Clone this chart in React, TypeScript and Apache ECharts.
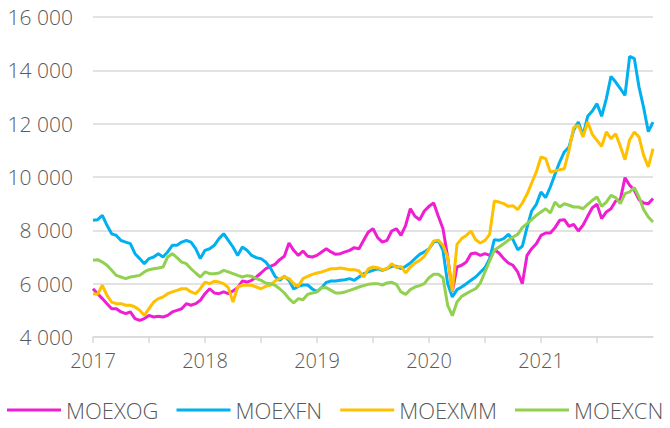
import React, { useEffect, useRef } from "react";
import * as echarts from "echarts";

// Semi-monthly observations, Jan 2017 .. Jan 2022 (121 points each)
const START_YEAR = 2017;
const STEPS_PER_YEAR = 24;

const seriesNames = ["MOEXOG", "MOEXFN", "MOEXMM", "MOEXCN"];
const seriesColors = ["#F01ED2", "#00B0F0", "#FFC000", "#92D050"];

const moexog = [
  5810, 5625, 5440, 5250, 5060, 5060, 4940, 4875, 4940, 4690, 4625, 4690, 4810, 4750, 4775, 4750,
  4810, 4940, 5000, 5060, 5250, 5190, 5250, 5375, 5625, 5810, 5650, 5625, 5690, 5625, 5725, 5850,
  6100, 6060, 6125, 6250, 6400, 6560, 6650, 6725, 6900, 7025, 7525, 7250, 7060, 7225, 7025, 7000,
  7060, 7190, 7310, 7190, 7100, 7125, 7190, 7250, 7350, 7310, 7625, 7940, 8060, 7725, 7560, 7625,
  7975, 8060, 7810, 8190, 8810, 8525, 8400, 8725, 8900, 9025, 8525, 8060, 7000, 5700, 6625, 6690,
  6810, 7125, 7150, 7060, 7125, 7060, 7275, 7150, 6940, 6775, 6690, 6440, 6000, 7060, 7310, 7500,
  7810, 7900, 7900, 8100, 8375, 8400, 8150, 8225, 7975, 8190, 8525, 8850, 8975, 8440, 8690, 8810,
  9100, 9150, 9975, 9690, 9500, 9150, 9025, 9000, 9190,
];

const moexfn = [
  8375, 8400, 8560, 8190, 7870, 7810, 7620, 7560, 7500, 7125, 6940, 6750, 6940, 7000, 7125, 7000,
  7190, 7440, 7440, 7560, 7620, 7560, 7310, 6940, 7250, 7310, 7440, 7690, 7875, 7620, 7375, 7060,
  7375, 7250, 7060, 6975, 6940, 6810, 6600, 6275, 6125, 6275, 6125, 5800, 5900, 5950, 5950, 5800,
  5700, 5850, 6050, 6100, 6100, 6125, 6150, 6190, 6125, 6250, 6375, 6440, 6500, 6560, 6500, 6560,
  6650, 6650, 6560, 6650, 6775, 6940, 7100, 7190, 7310, 7560, 7625, 7250, 6000, 5500, 5775, 5875,
  6000, 6125, 6250, 6425, 6600, 6940, 7650, 7625, 7690, 7850, 7650, 7275, 7400, 8100, 8725, 8975,
  9440, 9225, 9625, 10100, 10560, 10940, 11125, 11750, 12060, 11560, 12275, 12475, 12750, 12275, 12940, 13775,
  13560, 13310, 13060, 14525, 14440, 13375, 12600, 11700, 12060,
];

const moexmm = [
  5625, 5600, 5940, 5560, 5310, 5250, 5250, 5190, 5190, 5125, 5000, 4810, 5060, 5310, 5440, 5500,
  5625, 5690, 5750, 5810, 5810, 5690, 5625, 5810, 6060, 6000, 6090, 6060, 6000, 5850, 5310, 5875,
  5940, 5940, 5940, 5875, 5810, 5900, 5940, 6100, 6190, 6250, 6190, 6000, 5900, 6190, 6275, 6350,
  6400, 6440, 6500, 6560, 6560, 6590, 6560, 6525, 6525, 6475, 6250, 6560, 6625, 6600, 6525, 6560,
  6750, 6600, 6650, 6400, 6625, 6775, 6875, 7025, 7310, 7600, 7625, 7440, 7000, 5700, 7475, 7690,
  7810, 7975, 7650, 7525, 7625, 7850, 9100, 9060, 9000, 8900, 8925, 8775, 9025, 9350, 9775, 10190,
  10750, 10690, 10190, 10225, 10275, 10310, 11000, 11850, 11940, 11500, 12060, 11600, 11375, 11150, 11690, 11440,
  11625, 11150, 10650, 11400, 11690, 11500, 10810, 10375, 11060,
];

const moexcn = [
  6875, 6900, 6810, 6690, 6500, 6310, 6250, 6190, 6250, 6275, 6310, 6440, 6525, 6560, 6590, 6625,
  7000, 7125, 6975, 6810, 6750, 6560, 6400, 6250, 6440, 6375, 6375, 6400, 6500, 6440, 6375, 6310,
  6250, 6300, 6275, 6190, 6125, 6025, 6000, 5940, 5810, 5650, 5440, 5275, 5440, 5400, 5600, 5650,
  5690, 5850, 5850, 5750, 5650, 5650, 5690, 5750, 5810, 5875, 5925, 5975, 6000, 6000, 5950, 6025,
  6050, 5975, 5690, 5600, 5775, 5875, 5925, 6000, 6225, 6350, 6350, 6225, 5190, 4800, 5310, 5525,
  5625, 5725, 5810, 6025, 6440, 6850, 7250, 7375, 7500, 7625, 7750, 7850, 8100, 8250, 8400, 8560,
  8690, 8810, 8650, 9060, 8875, 9000, 8940, 8875, 8875, 8810, 8975, 9125, 9250, 8900, 9060, 9310,
  9225, 9000, 9375, 9440, 9600, 9250, 8775, 8500, 8310,
];

const yearTicks = [2017, 2017.5, 2018, 2018.5, 2019, 2019.5, 2020, 2020.5, 2021, 2021.5];
const yearLabels = [2017, 2018, 2019, 2020, 2021];

const allValues = [moexog, moexfn, moexmm, moexcn];

const FONT = "'Open Sans', Roboto, sans-serif";
const TEXT_COLOR = "#595959";
const GRID_COLOR = "#D9D9D9";

export default function App() {
  const ref = useRef<HTMLDivElement>(null);

  useEffect(() => {
    if (!ref.current) return;
    const chart = echarts.init(ref.current, undefined, { renderer: "svg" });
    const series = allValues.map((vals, k) => ({
      name: seriesNames[k],
      type: "line",
      showSymbol: false,
      symbol: "none",
      smooth: false,
      lineStyle: { width: 3, color: seriesColors[k] },
      itemStyle: { color: seriesColors[k] },
      data: vals.map((v, i) => [START_YEAR + i / STEPS_PER_YEAR, v]),
    }));
    chart.setOption({
      animation: false,
      backgroundColor: "#ffffff",
      textStyle: { fontFamily: FONT },
      grid: { left: 93, right: 17, top: 17, bottom: 91, containLabel: false },
      xAxis: {
        type: "value",
        min: 2017,
        max: 2022,
        interval: 0.5,
        axisLine: { show: true, lineStyle: { color: GRID_COLOR, width: 1.5 } },
        axisTick: {
          show: true,
          length: 6,
          customValues: yearTicks,
          lineStyle: { color: GRID_COLOR, width: 1.5 },
        },
        axisLabel: {
          customValues: yearLabels,
          formatter: (v: number) => String(v),
          color: TEXT_COLOR,
          fontSize: 20,
          fontFamily: FONT,
          fontWeight: 300,
          margin: 13,
        },
        splitLine: { show: false },
      },
      yAxis: {
        type: "value",
        min: 4000,
        max: 16000,
        interval: 2000,
        axisLine: { show: false },
        axisTick: { show: false },
        axisLabel: {
          formatter: (v: number) => `${v / 1000} 000`,
          color: TEXT_COLOR,
          fontSize: 21,
          fontFamily: FONT,
          fontWeight: 300,
          margin: 20,
        },
        splitLine: { show: true, lineStyle: { color: GRID_COLOR, width: 1.5 } },
      },
      legend: {
        show: true,
        left: 3,
        top: 395,
        padding: 4,
        width: 1200,
        itemWidth: 54,
        itemHeight: 3,
        itemGap: 18,
        icon: "rect",
        data: seriesNames,
        textStyle: {
          color: TEXT_COLOR,
          fontSize: 22,
          lineHeight: 22,
          fontFamily: FONT,
          fontWeight: 300,
        },
      },
      series,
    });
    return () => chart.dispose();
  }, []);

  return (
    <div
      ref={ref}
      style={{ position: "fixed", left: 0, top: 0, width: 670, height: 428 }}
    />
  );
}
